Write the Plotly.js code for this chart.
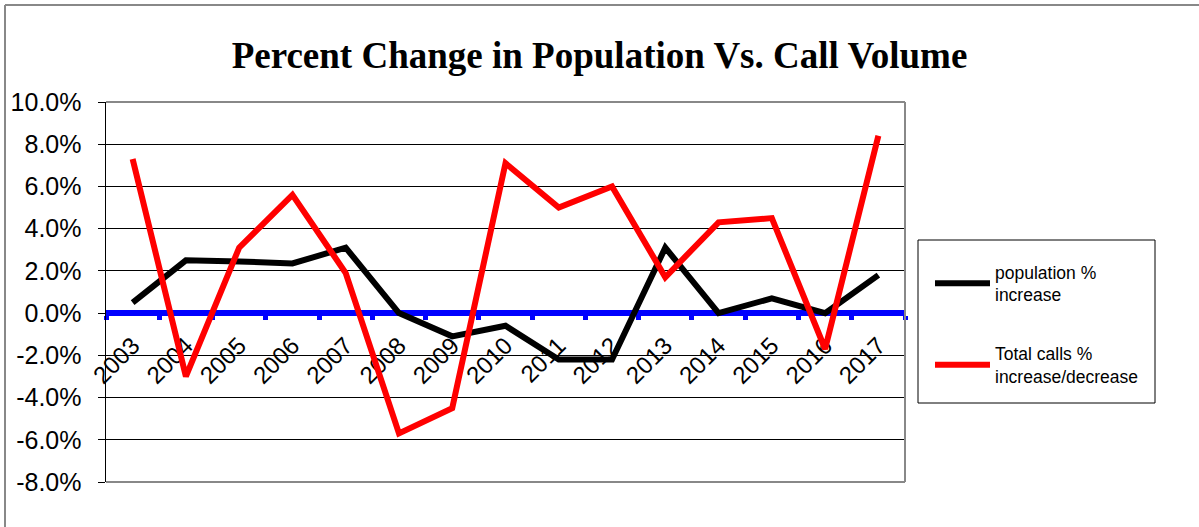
<!DOCTYPE html>
<html>
<head>
<meta charset="utf-8">
<script src="https://cdn.plot.ly/plotly-3.0.1.min.js"></script>
<style>
  html, body { margin: 0; padding: 0; background: #fff; }
  #chart { width: 1199px; height: 527px; }
</style>
</head>
<body>
<div id="chart"></div>
<script>
// Chart data (percent values)
const years = ['2003', '2004', '2005', '2006', '2007', '2008', '2009', '2010',
               '2011', '2012', '2013', '2014', '2015', '2016', '2017'];
const populationPct = [0.5, 2.5, 2.45, 2.35, 3.1, 0.0, -1.1, -0.6, -2.2, -2.2, 3.1, 0.0, 0.7, 0.0, 1.8];
const callsPct = [7.3, -3.0, 3.1, 5.6, 1.9, -5.7, -4.5, 7.1, 5.0, 6.0, 1.7, 4.3, 4.5, -1.7, 8.4];
const yTickVals = [-8, -6, -4, -2, 0, 2, 4, 6, 8, 10];
const yTickText = ['-8.0%', '-6.0%', '-4.0%', '-2.0%', '0.0%', '2.0%', '4.0%', '6.0%', '8.0%', '10.0%'];

const yMin = -8;
const yMax = 10;

// pixel helpers for the frames drawn as shapes (plot area is 106..905 x 102..482)
const px = x => (x - 106) / 799;
const py = y => (482 - y) / 380;

const traces = [
    {
        x: years,
        y: populationPct,
        name: 'population %<br>increase',
        legendgroup: 'pop',
        type: 'scatter',
        mode: 'lines',
        line: { color: '#000000', width: 6 }
    },
    {
        x: years,
        y: callsPct,
        name: 'Total calls %<br>increase/decrease',
        legendgroup: 'calls',
        type: 'scatter',
        mode: 'lines',
        line: { color: '#ff0000', width: 6 }
    }
];

const layout = {
    width: 1199,
    height: 527,
    margin: { l: 106, r: 294, t: 102, b: 45 },
    paper_bgcolor: '#ffffff',
    plot_bgcolor: '#ffffff',
    font: { family: 'Liberation Sans, Arial, sans-serif', color: '#000000' },
    showlegend: true,
    title: {
        text: '<b>Percent Change in Population Vs. Call Volume</b>',
        font: { family: 'Liberation Serif, Times New Roman, serif', size: 37, color: '#000000' },
        x: 0.5,
        xref: 'container',
        xanchor: 'center',
        y: 0.895,
        yref: 'container',
        yanchor: 'middle'
    },
    xaxis: {
        type: 'category',
        range: [-0.5, years.length - 0.5],
        anchor: 'free',
        // x axis crosses at 0%
        position: (0 - yMin) / (yMax - yMin),
        showline: true,
        linecolor: '#0000ff',
        linewidth: 6,
        ticks: 'outside',
        tickson: 'boundaries',
        ticklen: 4,
        tickwidth: 5,
        tickcolor: '#0000ff',
        tickangle: -45,
        ticklabelstandoff: 6,
        tickfont: { size: 24, family: 'Liberation Sans, Arial, sans-serif' },
        showgrid: false,
        zeroline: false,
        layer: 'below traces'
    },
    yaxis: {
        range: [yMin, yMax],
        tickvals: yTickVals,
        ticktext: yTickText,
        tickfont: { size: 25, family: 'Liberation Sans, Arial, sans-serif' },
        showline: true,
        linecolor: '#000000',
        linewidth: 1.5,
        ticks: 'outside',
        ticklen: 7,
        tickcolor: '#000000',
        ticklabelstandoff: 11,
        showgrid: true,
        gridcolor: '#000000',
        gridwidth: 1,
        zeroline: false
    },
    legend: {
        x: 930 / 1199,
        xref: 'container',
        y: 1 - 254 / 527,
        yref: 'container',
        xanchor: 'left',
        yanchor: 'top',
        bgcolor: 'rgba(0,0,0,0)',
        borderwidth: 0,
        font: { size: 17.5, family: 'Liberation Sans, Arial, sans-serif', color: '#000000' },
        itemwidth: 55,
        traceorder: 'grouped',
        tracegroupgap: 33
    },
    shapes: [
        // plot area frame (top, right, bottom)
        { type: 'line', xref: 'paper', yref: 'paper', x0: 0, x1: 1, y0: 1, y1: 1,
          line: { color: '#888888', width: 2 } },
        { type: 'line', xref: 'paper', yref: 'paper', x0: 1, x1: 1, y0: 0, y1: 1,
          line: { color: '#888888', width: 2 } },
        { type: 'line', xref: 'paper', yref: 'paper', x0: 0, x1: 1, y0: 0, y1: 0,
          line: { color: '#888888', width: 2 } },
        // legend box
        { type: 'rect', xref: 'paper', yref: 'paper',
          x0: px(918), x1: px(1155), y0: py(240), y1: py(403),
          line: { color: '#000000', width: 1 } },
        // outer chart frame (left and top edges)
        { type: 'line', xref: 'paper', yref: 'paper',
          x0: px(5), x1: px(5), y0: py(5), y1: py(540),
          line: { color: '#888888', width: 2 } },
        { type: 'line', xref: 'paper', yref: 'paper',
          x0: px(5), x1: px(1210), y0: py(5), y1: py(5),
          line: { color: '#888888', width: 2 } }
    ]
};

const config = { displayModeBar: false, staticPlot: true };

Plotly.newPlot('chart', traces, layout, config);
</script>
</body>
</html>
